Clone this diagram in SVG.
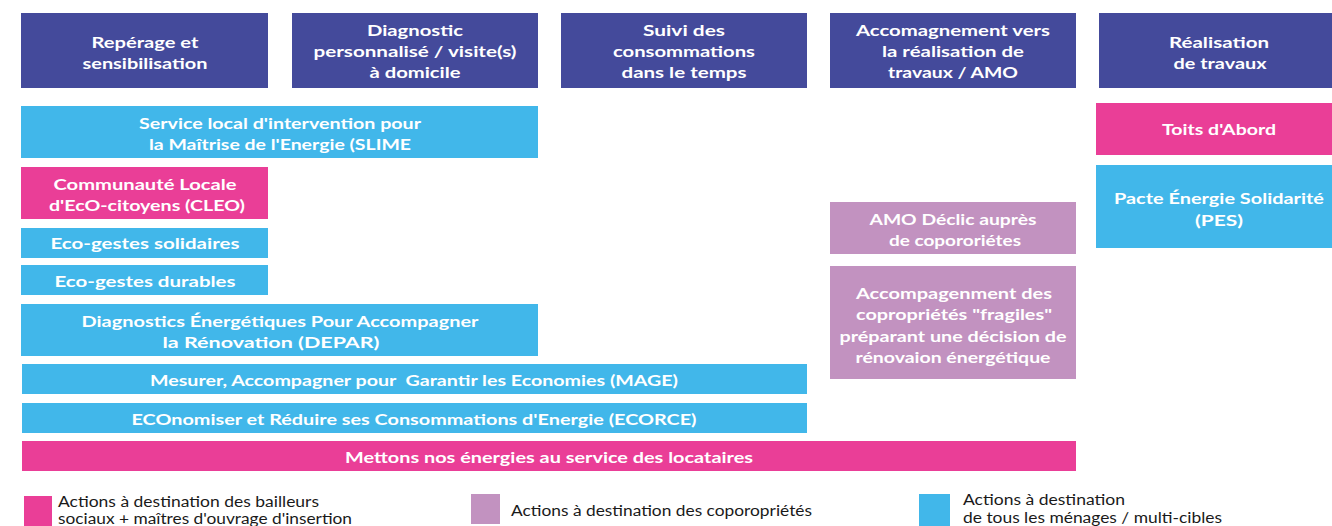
<svg xmlns="http://www.w3.org/2000/svg" width="1332" height="526" viewBox="0 0 1332 526">
<style>
.hd{fill:#444a9b}
.cy{fill:#41b7ea}
.pk{fill:#ea3e97}
.pu{fill:#c292c0}
.t{font-family:Lato,"Liberation Sans",sans-serif;font-weight:700;font-size:16px;fill:#ffffff;text-anchor:middle}
.lg{font-family:Lato,"Liberation Sans",sans-serif;font-weight:400;font-size:14.5px;fill:#1a1a1a}
</style>
<rect width="1332" height="526" fill="#ffffff"/>
<g id="h1"><rect class="hd" x="21" y="13" width="247" height="75"/>
<text class="t" x="145" y="48" textLength="107" lengthAdjust="spacingAndGlyphs">Repérage et</text>
<text class="t" x="145" y="69" textLength="125" lengthAdjust="spacingAndGlyphs">sensibilisation</text></g>
<g id="h2"><rect class="hd" x="292" y="13" width="246" height="75"/>
<text class="t" x="415" y="36" textLength="96" lengthAdjust="spacingAndGlyphs">Diagnostic</text>
<text class="t" x="415" y="57" textLength="203" lengthAdjust="spacingAndGlyphs">personnalisé / visite(s)</text>
<text class="t" x="415" y="78" textLength="91" lengthAdjust="spacingAndGlyphs">à domicile</text></g>
<g id="h3"><rect class="hd" x="561" y="13" width="246" height="75"/>
<text class="t" x="684" y="36" textLength="82" lengthAdjust="spacingAndGlyphs">Suivi des</text>
<text class="t" x="684" y="57" textLength="142" lengthAdjust="spacingAndGlyphs">consommations</text>
<text class="t" x="684" y="78" textLength="125" lengthAdjust="spacingAndGlyphs">dans le temps</text></g>
<g id="h4"><rect class="hd" x="830" y="13" width="246" height="75"/>
<text class="t" x="953" y="36" textLength="194" lengthAdjust="spacingAndGlyphs">Accomagnement vers</text>
<text class="t" x="953" y="57" textLength="142" lengthAdjust="spacingAndGlyphs">la réalisation de</text>
<text class="t" x="953" y="78" textLength="130" lengthAdjust="spacingAndGlyphs">travaux / AMO</text></g>
<g id="h5"><rect class="hd" x="1099" y="13" width="233" height="75"/>
<text class="t" x="1219" y="48" textLength="100" lengthAdjust="spacingAndGlyphs">Réalisation</text>
<text class="t" x="1220" y="69" textLength="93" lengthAdjust="spacingAndGlyphs">de travaux</text></g>
<g id="slime"><rect class="cy" x="21" y="106" width="517" height="52"/>
<text class="t" x="280" y="129" textLength="282" lengthAdjust="spacingAndGlyphs">Service local d'intervention pour</text>
<text class="t" x="280" y="150" textLength="262" lengthAdjust="spacingAndGlyphs">la Maîtrise de l'Energie (SLIME</text></g>
<g id="cleo"><rect class="pk" x="21" y="167" width="247" height="52"/>
<text class="t" x="145" y="190" textLength="183" lengthAdjust="spacingAndGlyphs">Communauté Locale</text>
<text class="t" x="147" y="211" textLength="196" lengthAdjust="spacingAndGlyphs">d'EcO-citoyens (CLEO)</text></g>
<g id="ecosol"><rect class="cy" x="21" y="228" width="247" height="30"/>
<text class="t" x="145" y="249" textLength="189" lengthAdjust="spacingAndGlyphs">Eco-gestes solidaires</text></g>
<g id="ecodur"><rect class="cy" x="21" y="265" width="247" height="30"/>
<text class="t" x="145" y="287" textLength="181" lengthAdjust="spacingAndGlyphs">Eco-gestes durables</text></g>
<g id="depar"><rect class="cy" x="21" y="304" width="517" height="52"/>
<text class="t" x="280" y="327" textLength="397" lengthAdjust="spacingAndGlyphs">Diagnostics Énergétiques Pour Accompagner</text>
<text class="t" x="271" y="348" textLength="217" lengthAdjust="spacingAndGlyphs">la Rénovation (DEPAR)</text></g>
<g id="mage"><rect class="cy" x="22" y="364" width="785" height="30"/>
<text class="t" x="414" y="386" textLength="528" lengthAdjust="spacingAndGlyphs" xml:space="preserve">Mesurer, Accompagner pour  Garantir les Economies (MAGE)</text></g>
<g id="ecorce"><rect class="cy" x="22" y="403" width="785" height="30"/>
<text class="t" x="414" y="425" textLength="565" lengthAdjust="spacingAndGlyphs">ECOnomiser et Réduire ses Consommations d'Energie (ECORCE)</text></g>
<g id="mettons"><rect class="pk" x="22" y="441" width="1054" height="30"/>
<text class="t" x="549" y="463" textLength="408" lengthAdjust="spacingAndGlyphs">Mettons nos énergies au service des locataires</text></g>
<g id="toits"><rect class="pk" x="1096" y="103" width="236" height="52"/>
<text class="t" x="1219" y="135" textLength="114" lengthAdjust="spacingAndGlyphs">Toits d'Abord</text></g>
<g id="pes"><rect class="cy" x="1096" y="165" width="236" height="83"/>
<text class="t" x="1219" y="204" textLength="210" lengthAdjust="spacingAndGlyphs">Pacte Énergie Solidarité</text>
<text class="t" x="1219" y="226" textLength="48" lengthAdjust="spacingAndGlyphs">(PES)</text></g>
<g id="amo"><rect class="pu" x="830" y="202" width="246" height="52"/>
<text class="t" x="953" y="225" textLength="167" lengthAdjust="spacingAndGlyphs">AMO Déclic auprès</text>
<text class="t" x="955" y="246" textLength="132" lengthAdjust="spacingAndGlyphs">de copororiétes</text></g>
<g id="fragiles"><rect class="pu" x="830" y="266" width="246" height="113"/>
<text class="t" x="954" y="299" textLength="196" lengthAdjust="spacingAndGlyphs">Accompagenment des</text>
<text class="t" x="954" y="320" textLength="196" lengthAdjust="spacingAndGlyphs">copropriétés "fragiles"</text>
<text class="t" x="953" y="342" textLength="227" lengthAdjust="spacingAndGlyphs">préparant une décision de</text>
<text class="t" x="953" y="363" textLength="195" lengthAdjust="spacingAndGlyphs">rénovaion énergétique</text></g>
<g id="legend">
<rect class="pk" x="24" y="496" width="28" height="30"/>
<text class="lg" x="58" y="507" textLength="261" lengthAdjust="spacingAndGlyphs">Actions à destination des bailleurs</text>
<text class="lg" x="58" y="524" textLength="294" lengthAdjust="spacingAndGlyphs">sociaux + maîtres d'ouvrage d'insertion</text>
<rect class="pu" x="471" y="494" width="29" height="30"/>
<text class="lg" x="511" y="516" textLength="301" lengthAdjust="spacingAndGlyphs">Actions à destination des coporopriétés</text>
<rect class="cy" x="919" y="494" width="31" height="32"/>
<text class="lg" x="963" y="505" textLength="162" lengthAdjust="spacingAndGlyphs">Actions à destination</text>
<text class="lg" x="963" y="523" textLength="259" lengthAdjust="spacingAndGlyphs">de tous les ménages / multi-cibles</text>
</g>
</svg>
